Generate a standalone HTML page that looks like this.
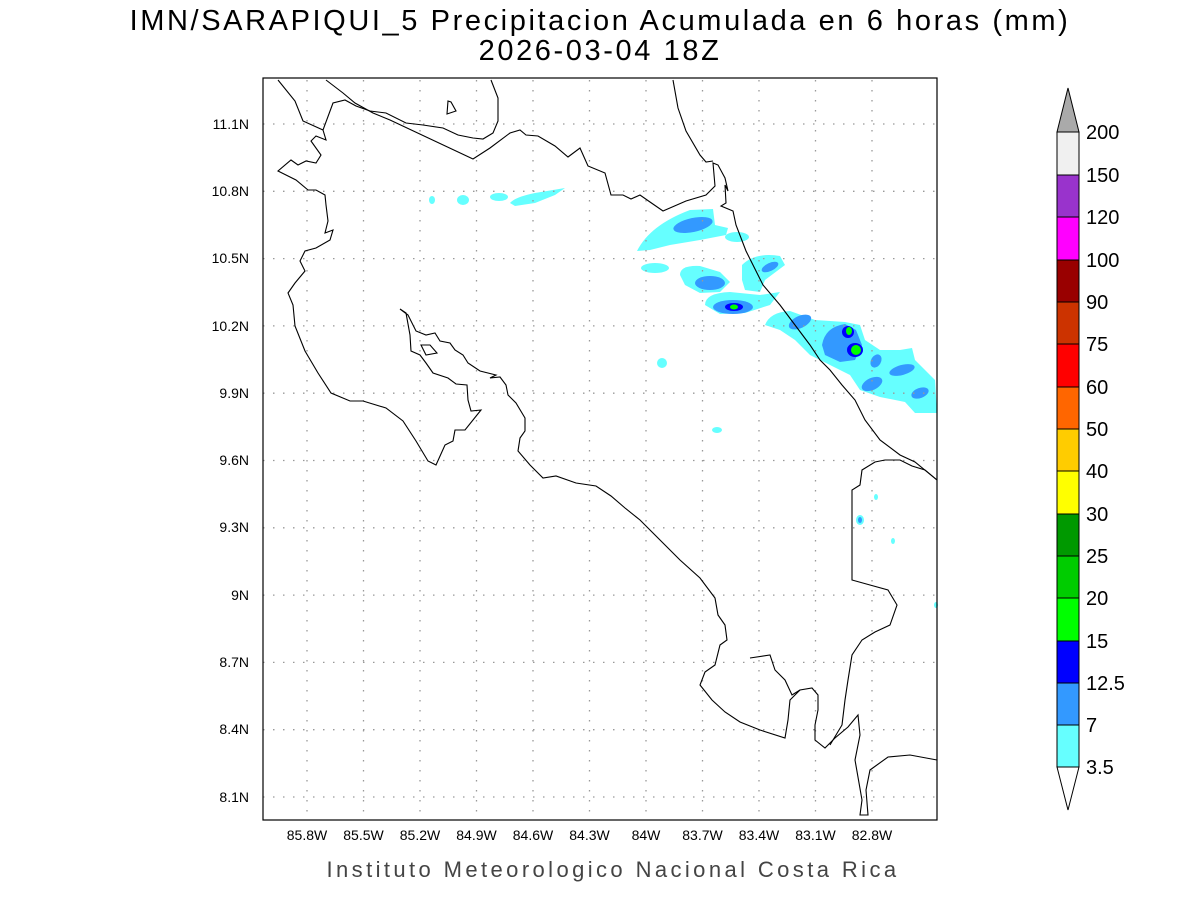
<!DOCTYPE html>
<html><head><meta charset="utf-8"><style>
html,body{margin:0;padding:0;background:#fff;}
svg{display:block;}
text{font-family:"Liberation Sans",sans-serif;}
</style></head><body>
<svg width="1200" height="900" viewBox="0 0 1200 900">
<rect width="1200" height="900" fill="#fff"/>
<text x="600" y="30" font-size="29" text-anchor="middle" letter-spacing="2.6" fill="#000">IMN/SARAPIQUI_5 Precipitacion Acumulada en 6 horas (mm)</text>
<text x="600" y="60" font-size="29" text-anchor="middle" letter-spacing="2.6" fill="#000">2026-03-04 18Z</text>

<!-- precip -->
<g>
<path d="M637,251 Q650,225 690,210 L713,209 L715,225 L728,228 L726,235 L700,240 L670,245 L650,250 Z" fill="#66ffff"/>
<ellipse cx="693" cy="225" rx="20" ry="7" fill="#3399ff" transform="rotate(-12 693 225)"/>
<ellipse cx="737" cy="237" rx="12" ry="5" fill="#66ffff"/>
<ellipse cx="655" cy="268" rx="14" ry="5" fill="#66ffff"/>
<path d="M680,275 Q680,265 700,266 L720,272 L730,282 L720,292 L700,293 L685,285 Z" fill="#66ffff"/>
<ellipse cx="710" cy="283" rx="15" ry="7" fill="#3399ff"/>
<path d="M742,265 Q755,252 780,256 L785,265 L765,280 L760,292 L745,290 L742,280 Z" fill="#66ffff"/>
<ellipse cx="770" cy="267" rx="9" ry="4" fill="#3399ff" transform="rotate(-25 770 267)"/>
<path d="M705,305 Q705,293 730,292 L760,295 L780,292 L770,305 L745,313 L720,314 Z" fill="#66ffff"/>
<ellipse cx="733" cy="307" rx="20" ry="7" fill="#3399ff"/>
<ellipse cx="734" cy="307" rx="9" ry="4" fill="#0000ff"/>
<ellipse cx="734" cy="307" rx="4" ry="2.5" fill="#00ff00"/>
<path d="M765,325 Q770,312 790,311 L815,320 L845,322 L860,325 L865,340 L880,350 L900,350 L912,348 L915,360 L925,370 L935,380 L937,413 L915,413 L905,402 L880,397 L860,390 L850,375 L830,365 L810,355 L795,340 L780,330 Z" fill="#66ffff"/>
<ellipse cx="800" cy="322" rx="12" ry="6" fill="#3399ff" transform="rotate(-25 800 322)"/>
<path d="M822,345 Q825,327 845,324 L856,330 L862,345 L855,360 L840,362 L825,355 Z" fill="#3399ff"/>
<ellipse cx="848" cy="332" rx="6" ry="6" fill="#0000ff"/>
<ellipse cx="849" cy="331" rx="3" ry="4" fill="#00ff00"/>
<ellipse cx="855" cy="350" rx="8" ry="7" fill="#0000ff"/>
<ellipse cx="856" cy="350" rx="5" ry="5" fill="#00ff00"/>
<ellipse cx="876" cy="361" rx="5" ry="7" fill="#3399ff" transform="rotate(30 876 361)"/>
<ellipse cx="902" cy="370" rx="13" ry="5" fill="#3399ff" transform="rotate(-15 902 370)"/>
<ellipse cx="872" cy="384" rx="11" ry="6" fill="#3399ff" transform="rotate(-25 872 384)"/>
<ellipse cx="920" cy="393" rx="9" ry="5" fill="#3399ff" transform="rotate(-20 920 393)"/>
<ellipse cx="923" cy="405" rx="14" ry="5" fill="#66ffff"/>
<ellipse cx="662" cy="363" rx="5" ry="5" fill="#66ffff"/>
<ellipse cx="717" cy="430" rx="5" ry="3" fill="#66ffff"/>
<ellipse cx="860" cy="520" rx="4" ry="5" fill="#66ffff"/>
<ellipse cx="860" cy="520" rx="2" ry="3" fill="#3399ff"/>
<ellipse cx="876" cy="497" rx="2" ry="3" fill="#66ffff"/>
<ellipse cx="893" cy="541" rx="2" ry="3" fill="#66ffff"/>
<ellipse cx="936" cy="605" rx="2" ry="3" fill="#66ffff"/>
<ellipse cx="432" cy="200" rx="3" ry="4" fill="#66ffff"/>
<ellipse cx="463" cy="200" rx="6" ry="5" fill="#66ffff"/>
<ellipse cx="499" cy="197" rx="9" ry="4" fill="#66ffff"/>
<path d="M510,203 Q515,197 535,193 L565,188 L555,195 L535,203 L515,206 Z" fill="#66ffff"/>
</g>

<!-- grid -->
<g stroke="#999" stroke-width="1.3" stroke-dasharray="1.5,8.5">
<line x1="307" y1="80" x2="307" y2="820"/><line x1="363.5" y1="80" x2="363.5" y2="820"/><line x1="420" y1="80" x2="420" y2="820"/><line x1="476.5" y1="80" x2="476.5" y2="820"/><line x1="533" y1="80" x2="533" y2="820"/><line x1="589.5" y1="80" x2="589.5" y2="820"/><line x1="646" y1="80" x2="646" y2="820"/><line x1="702.5" y1="80" x2="702.5" y2="820"/><line x1="759" y1="80" x2="759" y2="820"/><line x1="815.5" y1="80" x2="815.5" y2="820"/><line x1="872" y1="80" x2="872" y2="820"/>
<line x1="263" y1="124" x2="937" y2="124"/><line x1="263" y1="191.3" x2="937" y2="191.3"/><line x1="263" y1="258.6" x2="937" y2="258.6"/><line x1="263" y1="325.9" x2="937" y2="325.9"/><line x1="263" y1="393.2" x2="937" y2="393.2"/><line x1="263" y1="460.5" x2="937" y2="460.5"/><line x1="263" y1="527.8" x2="937" y2="527.8"/><line x1="263" y1="595.1" x2="937" y2="595.1"/><line x1="263" y1="662.4" x2="937" y2="662.4"/><line x1="263" y1="729.7" x2="937" y2="729.7"/><line x1="263" y1="797" x2="937" y2="797"/>
</g>

<!-- coast -->
<g fill="none" stroke="#000" stroke-width="1.1">
<polyline points="278,80 295,101 303,121 323,130 333,103 345,100 356,106 370,111 386,113 406,123 423,125 443,128 458,135 473,138 483,139 493,133 498,121 498,98 491,80"/>
<polyline points="326,80 343,93 355,103 373,113 390,120 473,159 490,148 510,133 520,130 526,135 538,136 555,146 568,157 580,148 588,166 605,173 611,195 623,195 631,199 640,195 650,202 663,211 686,201 706,195 715,186 713,163 718,165 725,178 728,191 725,185 726,203 721,206 733,211 736,225 746,251 756,271 763,285 780,305 795,325 810,345 820,360 830,370 842,385 855,400 865,420 880,440 900,455 915,462 937,480"/>
<polyline points="673,80 678,108 686,131 700,155 706,162 713,161"/>
<polygon points="448,101 451,102 456,111 447,114"/>
<polygon points="421,345 430,345 437,353 426,355"/>
<polyline points="323,130 326,140 316,136 311,141 321,155 316,163 306,161 298,165 291,160 278,171 296,180 308,190 316,190 325,195 326,205 328,221 325,233 333,230 330,240 316,248 305,251 300,261 305,271 295,283 288,293 293,305 295,326 305,351 318,373 331,393 350,401 363,401 386,408 403,421 416,441 428,461 436,465 445,445 453,441 455,430 465,430 481,410 471,411 468,400 467,385 456,384 448,378 433,373 426,363 420,355 411,351 410,335 406,313 400,309 408,315 416,331 426,335 435,333 440,341 450,343 455,350 463,355 468,363 480,371 496,375 490,378 500,377 506,385 508,395 516,403 525,418 525,431 520,438 518,451 530,465 543,478 556,476 576,483 596,486 611,496 625,508 640,520 660,540 680,560 700,578 715,598 718,615 725,625 727,640 720,645 715,665 705,672 700,685 712,700 725,712 740,722 760,730 785,738 788,720 790,700 800,690 812,688 818,695 818,710 815,725 815,740 825,748 835,738 848,727 858,715 860,735 855,760 862,800 860,815 868,815 866,790 870,770 888,757 910,755 937,760"/>
<polyline points="750,658 770,655 775,670 785,680 792,695 800,690"/>
<polyline points="937,480 925,470 912,466 900,460 885,460 875,462 862,470 860,485 852,490 852,580 870,585 888,590 897,605 890,625 875,632 862,640 852,655 848,680 845,700 842,725 830,745"/>
</g>
<rect x="263" y="78" width="674" height="742" fill="none" stroke="#000" stroke-width="1.2"/>

<!-- tick labels -->
<g font-size="14" fill="#000">
<g text-anchor="end">
<text x="249" y="129">11.1N</text><text x="249" y="196">10.8N</text><text x="249" y="263">10.5N</text><text x="249" y="331">10.2N</text><text x="249" y="398">9.9N</text><text x="249" y="465">9.6N</text><text x="249" y="532">9.3N</text><text x="249" y="600">9N</text><text x="249" y="667">8.7N</text><text x="249" y="734">8.4N</text><text x="249" y="802">8.1N</text>
</g>
<g text-anchor="middle">
<text x="307" y="840">85.8W</text><text x="363.5" y="840">85.5W</text><text x="420" y="840">85.2W</text><text x="476.5" y="840">84.9W</text><text x="533" y="840">84.6W</text><text x="589.5" y="840">84.3W</text><text x="646" y="840">84W</text><text x="702.5" y="840">83.7W</text><text x="759" y="840">83.4W</text><text x="815.5" y="840">83.1W</text><text x="872" y="840">82.8W</text>
</g>
</g>
<text x="613" y="877" font-size="22" text-anchor="middle" letter-spacing="3.4" fill="#444">Instituto Meteorologico Nacional Costa Rica</text>

<!-- colorbar -->
<g stroke="#000" stroke-width="1">
<polygon points="1057,132 1079,132 1068,88" fill="#aaaaaa"/>
<rect x="1057" y="132" width="22" height="43" fill="#f0f0f0"/>
<rect x="1057" y="175" width="22" height="42" fill="#9933cc"/>
<rect x="1057" y="217" width="22" height="43" fill="#ff00ff"/>
<rect x="1057" y="260" width="22" height="42" fill="#990000"/>
<rect x="1057" y="302" width="22" height="42" fill="#cc3300"/>
<rect x="1057" y="344" width="22" height="43" fill="#ff0000"/>
<rect x="1057" y="387" width="22" height="42" fill="#ff6600"/>
<rect x="1057" y="429" width="22" height="42" fill="#ffcc00"/>
<rect x="1057" y="471" width="22" height="43" fill="#ffff00"/>
<rect x="1057" y="514" width="22" height="42" fill="#009900"/>
<rect x="1057" y="556" width="22" height="42" fill="#00cc00"/>
<rect x="1057" y="598" width="22" height="43" fill="#00ff00"/>
<rect x="1057" y="641" width="22" height="42" fill="#0000ff"/>
<rect x="1057" y="683" width="22" height="42" fill="#3399ff"/>
<rect x="1057" y="725" width="22" height="42" fill="#66ffff"/>
<polygon points="1057,767 1079,767 1068,810" fill="#ffffff"/>
</g>
<g font-size="20" fill="#000">
<text x="1086" y="139">200</text><text x="1086" y="182">150</text><text x="1086" y="224">120</text><text x="1086" y="267">100</text><text x="1086" y="309">90</text><text x="1086" y="351">75</text><text x="1086" y="394">60</text><text x="1086" y="436">50</text><text x="1086" y="478">40</text><text x="1086" y="521">30</text><text x="1086" y="563">25</text><text x="1086" y="605">20</text><text x="1086" y="648">15</text><text x="1086" y="690">12.5</text><text x="1086" y="732">7</text><text x="1086" y="774">3.5</text>
</g>
</svg>
</body></html>
